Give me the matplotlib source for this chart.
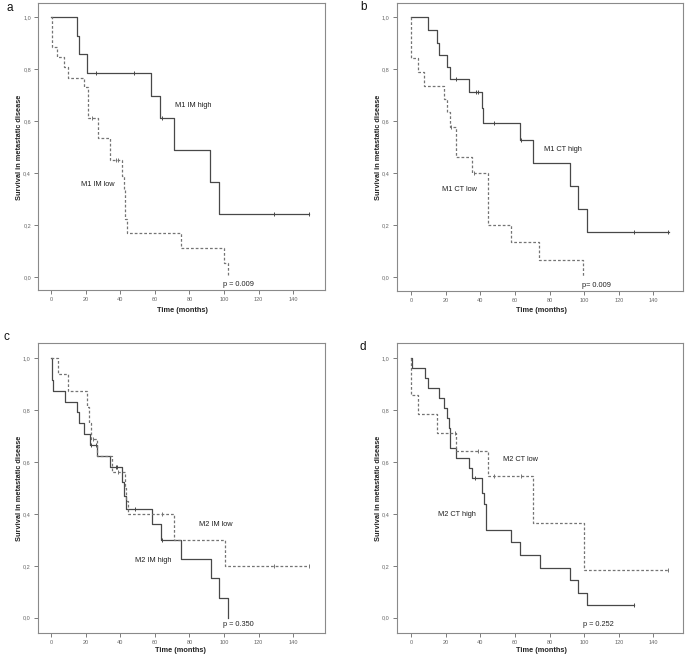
import numpy as np
import matplotlib
matplotlib.use("Agg")
import matplotlib.pyplot as plt

plt.rcParams['font.family'] = ['Liberation Sans', 'DejaVu Sans']

W, H = 685, 654

# ---- data: (time in months, survival), censor times ----
# a: M1 IM
a_high_t = [0, 15, 16, 21, 58, 63, 71, 92, 97, 149]
a_high_s = [1.0, 0.929, 0.857, 0.786, 0.698, 0.611, 0.489, 0.367, 0.245, 0.245]
a_high_cens = [26, 48, 64, 129, 149]
a_low_t = [0, 0.3, 3.5, 7.5, 10, 19.2, 21.6, 27, 34.3, 41, 42, 43, 44, 75, 100, 102]
a_low_s = [1.0, 0.887, 0.846, 0.808, 0.768, 0.733, 0.614, 0.535, 0.451, 0.39, 0.338, 0.226, 0.169, 0.113, 0.056, 0.0]
a_low_cens = [23.5, 37.5, 38.7]

# b: M1 CT
b_high_t = [0, 10, 15, 16, 21, 22.5, 33.7, 40.8, 41.8, 63, 70.7, 91.9, 96.7, 101.7, 149]
b_high_s = [1.0, 0.951, 0.903, 0.857, 0.81, 0.762, 0.714, 0.65, 0.592, 0.528, 0.438, 0.351, 0.263, 0.176, 0.176]
b_high_cens = [26, 37.5, 38.7, 48, 63.5, 128.8, 148.7]
b_low_t = [0, 0.1, 4.2, 7.7, 19.2, 21, 22.5, 26, 35, 44.3, 58, 74, 99.6]
b_low_s = [1.0, 0.842, 0.791, 0.736, 0.686, 0.635, 0.579, 0.464, 0.402, 0.201, 0.135, 0.068, 0.0]
b_low_cens = [23, 36.6]

# c: M2 IM
c_high_t = [0, 0.3, 1.2, 8.3, 15.2, 16, 19.2, 22.5, 26.4, 34.3, 41, 42, 43.2, 58.2, 63.4, 75.1, 92.2, 97, 102]
c_high_s = [1.0, 0.917, 0.875, 0.833, 0.792, 0.75, 0.708, 0.666, 0.623, 0.58, 0.524, 0.47, 0.42, 0.36, 0.3, 0.225, 0.152, 0.075, 0.0]
c_high_cens = [23, 26, 37.5, 38.4, 48.5, 64]
c_low_t = [0, 4.2, 10, 21, 22, 23, 26.5, 35, 42.5, 43.3, 44.5, 71, 100.5, 149]
c_low_s = [1.0, 0.938, 0.875, 0.8125, 0.75, 0.6875, 0.625, 0.5625, 0.5, 0.45, 0.4, 0.3, 0.2, 0.2]
c_low_cens = [24, 39, 64, 129, 149]

# d: M2 CT
d_high_t = [0, 0.8, 8.3, 9.8, 16, 18.9, 20.6, 22, 22.5, 26, 33.7, 35.2, 41.2, 42, 43.1, 58, 62.8, 74.7, 91.9, 96.7, 101.7, 128.8]
d_high_s = [1.0, 0.962, 0.923, 0.885, 0.846, 0.808, 0.769, 0.731, 0.654, 0.615, 0.577, 0.538, 0.482, 0.437, 0.338, 0.29, 0.242, 0.193, 0.145, 0.096, 0.048, 0.048]
d_high_cens = [37, 128.8]
d_low_t = [0, 0.1, 3.9, 15, 26, 44.3, 70.7, 99.7, 148.7]
d_low_s = [1.0, 0.857, 0.786, 0.714, 0.643, 0.546, 0.364, 0.182, 0.182]
d_low_cens = [25.6, 38.7, 48, 63.5, 148.7]

x_ticks = [0, 20, 40, 60, 80, 100, 120, 140]
y_ticks = [0.0, 0.2, 0.4, 0.6, 0.8, 1.0]
y_ticklabels = ["0,0", "0,2", "0,4", "0,6", "0,8", "1,0"]

SOLID = "#484848"
DASH = "#747474"


def px_axes(l, t, r, b):
    return fig.add_axes([l / W, 1 - b / H, (r - l) / W, (b - t) / H])


def level(ts, ss, x):
    i = np.searchsorted(ts, x, side="right") - 1
    return ss[max(i, 0)]


def curve(ax, ts, ss, cens, color, ls):
    ax.step(ts, ss, where="post", color=color, lw=0.9, ls=ls,
            dashes=(2.2, 1.6) if ls == "--" else (None, None))
    cy = [level(ts, ss, c) for c in cens]
    ax.plot(cens, cy, ls="none", marker="|", ms=3.2, mew=0.7, color=color)


def panel(box, xlim, ylim, curves, texts, letter, letter_xy, xlab_xy, ylab_xy):
    ax = px_axes(*box)
    for ts, ss, cens, col, ls in curves:
        curve(ax, ts, ss, cens, col, ls)
    ax.set_xlim(*xlim)
    ax.set_ylim(*ylim)
    ax.set_xticks(x_ticks)
    ax.set_xticklabels([str(v) for v in x_ticks])
    ax.set_yticks(y_ticks)
    ax.set_yticklabels(y_ticklabels)
    ax.tick_params(length=3, width=0.6, labelsize=4, colors="#666666", pad=2)
    for sp in ax.spines.values():
        sp.set_color("#8a8a8a")
        sp.set_linewidth(0.8)
    for x, y, s in texts:
        ax.text(x, y, s, fontsize=5.3, color="#222222", va="center", ha="left")
    fig.text(letter_xy[0] / W, 1 - letter_xy[1] / H, letter, fontsize=8.5,
             ha="left", va="center", color="#111111")
    fig.text(xlab_xy[0] / W, 1 - xlab_xy[1] / H, "Time (months)", fontsize=5.3,
             fontweight="bold", ha="center", va="center", color="#222222")
    fig.text(ylab_xy[0] / W, 1 - ylab_xy[1] / H, "Survival in metastatic disease",
             fontsize=5.3, fontweight="bold", rotation=90, ha="center",
             va="center", color="#222222")
    return ax


fig = plt.figure(figsize=(W / 100, H / 100), dpi=100)
fig.patch.set_facecolor("white")

panel((38, 3, 325, 290), (-7.51, 158.3), (-0.049, 1.055),
      [(a_high_t, a_high_s, a_high_cens, SOLID, "-"),
       (a_low_t, a_low_s, a_low_cens, DASH, "--")],
      [(71.6, 0.659, "M1 IM high"), (17.6, 0.355, "M1 IM low"), (99.5, -0.026, "p = 0.009")],
      "a", (6, 8), (182.7, 310), (20, 147))

panel((396.7, 3.3, 683, 290.7), (-8.26, 157.1), (-0.0515, 1.054),
      [(b_high_t, b_high_s, b_high_cens, SOLID, "-"),
       (b_low_t, b_low_s, b_low_cens, DASH, "--")],
      [(76.7, 0.493, "M1 CT high"), (17.7, 0.336, "M1 CT low"), (98.8, -0.03, "p= 0.009")],
      "b", (360, 7), (541.7, 310), (378, 147))

panel((37.7, 343.3, 325, 632.7), (-7.68, 158.3), (-0.058, 1.058),
      [(c_high_t, c_high_s, c_high_cens, SOLID, "-"),
       (c_low_t, c_low_s, c_low_cens, DASH, "--")],
      [(85.5, 0.36, "M2 IM low"), (48.5, 0.222, "M2 IM high"), (99.5, -0.028, "p = 0.350")],
      "c", (3, 337), (180, 650), (20, 488))

panel((396.7, 343.3, 683, 632.7), (-8.26, 157.1), (-0.058, 1.058),
      [(d_high_t, d_high_s, d_high_cens, SOLID, "-"),
       (d_low_t, d_low_s, d_low_cens, DASH, "--")],
      [(53.3, 0.61, "M2 CT low"), (15.4, 0.399, "M2 CT high"), (99.6, -0.028, "p = 0.252")],
      "d", (360, 347), (541.7, 650), (378, 488))

fig.savefig("out.png", dpi=100, facecolor="white")
